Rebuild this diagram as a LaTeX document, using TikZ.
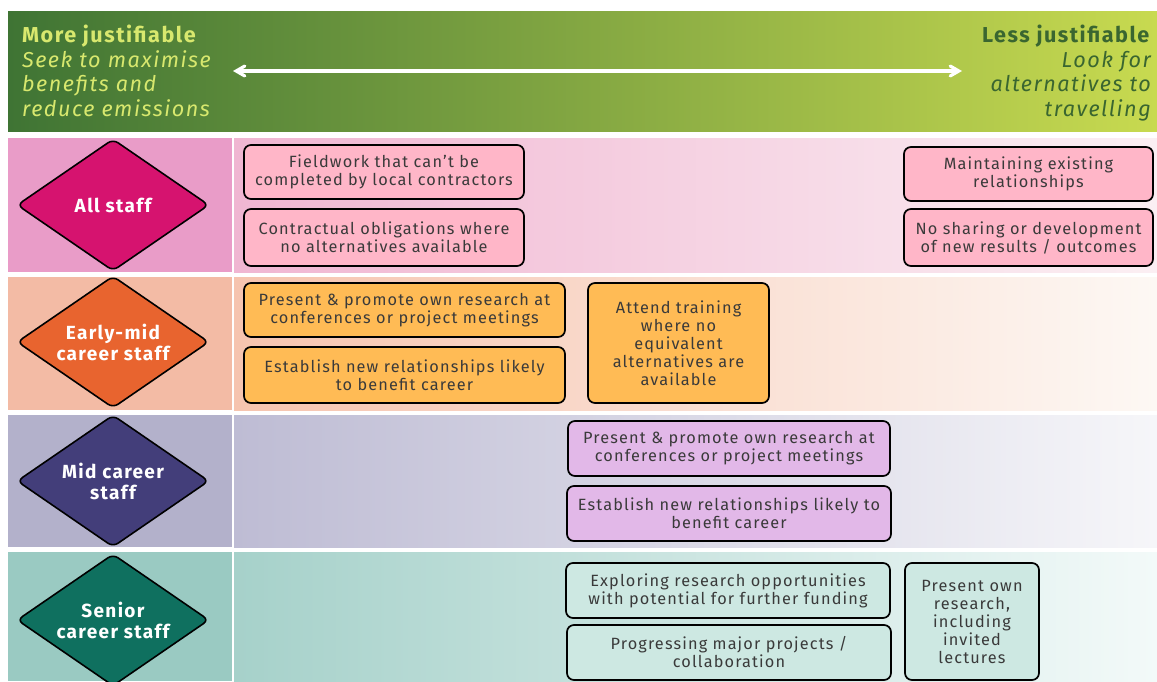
\documentclass[tikz,border=0pt]{standalone}
\usepackage{fontspec}
\setmainfont{Fira Sans}[LetterSpace=7]
\usetikzlibrary{shapes.geometric,arrows}

\definecolor{hdrdark}{HTML}{3F7434}
\definecolor{hdrlight}{HTML}{C8DA50}
\definecolor{hdrtxt}{HTML}{D8E86E}
\definecolor{hdrtxtdark}{HTML}{3A6630}
\definecolor{txtgray}{HTML}{3A3A3A}
% row colours: left column, band start, band end
\definecolor{pinkcol}{HTML}{E99CC8}
\definecolor{pinka}{HTML}{F0B6D2}
\definecolor{pinkb}{HTML}{FBEFF3}
\definecolor{peachcol}{HTML}{F3BBA5}
\definecolor{peacha}{HTML}{F6C4AF}
\definecolor{peachb}{HTML}{FDF8F4}
\definecolor{lavcol}{HTML}{B3B1CB}
\definecolor{lava}{HTML}{BEBCD4}
\definecolor{lavb}{HTML}{F6F6F9}
\definecolor{tealcol}{HTML}{9ACAC2}
\definecolor{teala}{HTML}{A6D1CA}
\definecolor{tealb}{HTML}{F3FAF9}
% diamonds and boxes
\definecolor{allstaff}{HTML}{D6136F}
\definecolor{earlystaff}{HTML}{E8642F}
\definecolor{midstaff}{HTML}{433E7A}
\definecolor{seniorstaff}{HTML}{0F705F}
\definecolor{pinkbox}{HTML}{FFB6C8}
\definecolor{orangebox}{HTML}{FFBB55}
\definecolor{lilacbox}{HTML}{E2B8E8}
\definecolor{tealbox}{HTML}{CDE8E2}

\tikzset{
  staff/.style={diamond, aspect=1.45, draw=black, line width=1.6pt, rounded corners=6pt,
    minimum width=192pt, minimum height=132pt, inner sep=0pt, text=white,
    align=center, font=\bfseries\fontsize{19}{21}\selectfont},
  jbox/.style={draw=black, line width=1.7pt, rounded corners=7pt, align=center,
    text=txtgray, inner sep=1pt, font=\fontsize{16.3}{18}\selectfont}
}

\begin{document}
\begin{tikzpicture}[x=1pt,y=-1pt,>=angle 60]
\useasboundingbox (0,0) rectangle (1157,681);

%header band
\shade[left color=hdrdark, right color=hdrlight] (8,11) rectangle (1157,131);
\node[anchor=north west, align=left, text=hdrtxt, inner sep=0pt,
  font=\fontsize{21.6}{24.5}\selectfont] (more) at (22,25)
  {\textbf{More justifiable}\\ \itshape Seek to maximise\\ \itshape benefits and\\ \itshape reduce emissions};
\node[anchor=north east, align=right, text=hdrtxtdark, inner sep=0pt,
  font=\fontsize{21.6}{24.5}\selectfont] (less) at (1151,25)
  {\textbf{Less justifiable}\\ \itshape Look for\\ \itshape alternatives to\\ \itshape travelling};
\coordinate (larr) at (233,71);
\coordinate (rarr) at (962,71);
\draw[<->, white, line width=3.2pt] (larr) -- (rarr);

%row bands
\fill[pinkcol] (8,138) rectangle (232,272);
\shade[left color=pinka, right color=pinkb] (234,138) rectangle (1157,272);
\fill[peachcol] (8,277) rectangle (232,410);
\shade[left color=peacha, right color=peachb] (234,277) rectangle (1157,410);
\fill[lavcol] (8,415) rectangle (232,547);
\shade[left color=lava, right color=lavb] (234,415) rectangle (1157,547);
\fill[tealcol] (8,552) rectangle (232,681);
\shade[left color=teala, right color=tealb] (234,552) rectangle (1157,681);

%staff groups
\node[staff, fill=allstaff] (all) at (113,205) {All staff};
\node[staff, fill=earlystaff] (early) at (113,342) {Early-mid\\career staff};
\node[staff, fill=midstaff] (mid) at (113,481) {Mid career\\staff};
\node[staff, fill=seniorstaff] (senior) at (113,620) {Senior\\career staff};

%all staff
\node[jbox, fill=pinkbox, minimum width=280pt, minimum height=54pt] (fieldwork) at (384,172)
  {Fieldwork that can't be\\completed by local contractors};
\node[jbox, fill=pinkbox, minimum width=280pt, minimum height=57pt] (contract) at (384,237.5)
  {Contractual obligations where\\no alternatives available};
\node[jbox, fill=pinkbox, minimum width=249pt, minimum height=54pt] (maintain) at (1028.5,174)
  {Maintaining existing\\relationships};
\node[jbox, fill=pinkbox, minimum width=249pt, minimum height=57pt] (nosharing) at (1028.5,237.5)
  {No sharing or development\\of new results / outcomes};

%early-mid career
\node[jbox, fill=orangebox, minimum width=321pt, minimum height=54pt] (earlyprom) at (404.5,310)
  {Present \& promote own research at\\conferences or project meetings};
\node[jbox, fill=orangebox, minimum width=321pt, minimum height=56pt] (earlyrel) at (404.5,375)
  {Establish new relationships likely\\to benefit career};
\node[jbox, fill=orangebox, minimum width=181pt, minimum height=120pt] (training) at (678.5,343)
  {Attend training\\where no\\equivalent\\alternatives are\\available};

%mid career
\node[jbox, fill=lilacbox, minimum width=322pt, minimum height=55pt] (midprom) at (729,448.5)
  {Present \& promote own research at\\conferences or project meetings};
\node[jbox, fill=lilacbox, minimum width=324pt, minimum height=55pt] (midrel) at (729,513.5)
  {Establish new relationships likely to\\benefit career};

%senior career
\node[jbox, fill=tealbox, minimum width=324pt, minimum height=55pt] (explore) at (728,590.5)
  {Exploring research opportunities\\with potential for further funding};
\node[jbox, fill=tealbox, minimum width=324pt, minimum height=55pt] (progress) at (729,652.5)
  {Progressing major projects /\\collaboration};
\node[jbox, fill=tealbox, minimum width=134pt, minimum height=117pt] (lectures) at (972,621.5)
  {Present own\\research,\\including\\invited\\lectures};

\end{tikzpicture}
\end{document}
